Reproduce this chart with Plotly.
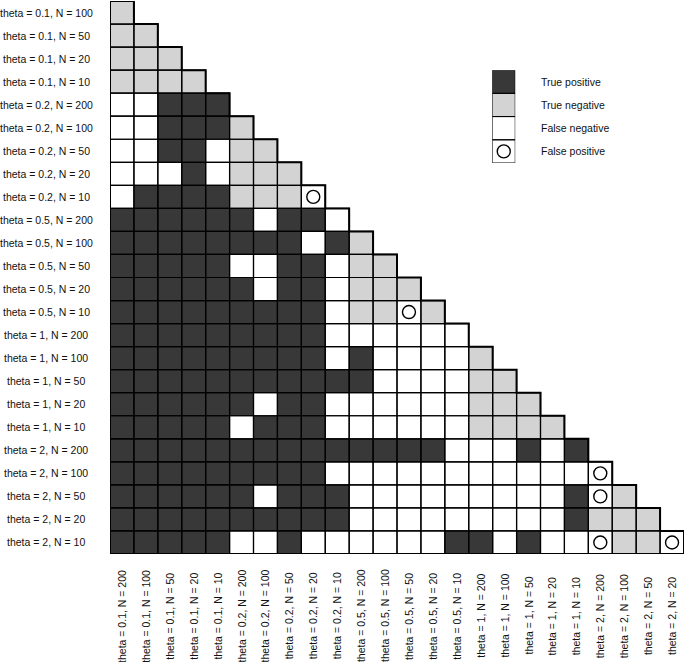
import plotly.graph_objects as go

# ---- data ----
thetas = ["0.1"] * 4 + ["0.2"] * 5 + ["0.5"] * 5 + ["1"] * 5 + ["2"] * 5
row_ns = ["100", "50", "20", "10"] + ["200", "100", "50", "20", "10"] * 4
row_labels = [f"theta = {t}, N = {n}" for t, n in zip(thetas, row_ns)]

col_thetas = ["0.1"] * 5 + ["0.2"] * 5 + ["0.5"] * 5 + ["1"] * 5 + ["2"] * 4
col_ns = ["200", "100", "50", "20", "10"] * 4 + ["200", "100", "50", "20"]
col_labels = [f"theta = {t}, N = {n}" for t, n in zip(col_thetas, col_ns)]

# T = true positive, N = true negative, F = false negative, P = false positive
outcomes = [
    "N",
    "NN",
    "NNN",
    "NNNN",
    "FFTTT",
    "FFTTTN",
    "FFTTFNN",
    "FFFTFNNN",
    "FTTTTNNNP",
    "TTTTTTFTTF",
    "TTTTTTTTFTN",
    "TTTTTFFTTFNN",
    "TTTTTTFTTFNNN",
    "TTTTTTTTTFNNPN",
    "TTTTTTTTTFFFFFF",
    "TTTTTTTTTFTFFFFN",
    "TTTTTTTTTTTFFFFNN",
    "TTTTTTFTTFFFFFFNNN",
    "TTTTTFTTTFFFFFFNNNN",
    "TTTTTTTTTTTTTTFFFTFT",
    "TTTTTTTTTFFFFFFFFFFFP",
    "TTTTTTFTTTFFFFFFFFFTPN",
    "TTTTTTTTTTFFFFFFFFFTNNN",
    "TTTTTFFTFFFFFFTTFTFFPNNP",
]

legend_codes = ["T", "N", "F", "P"]
legend_names = ["True positive", "True negative", "False negative", "False positive"]

# ---- styles ----
DARK = "#383838"
GRAY = "#d3d3d3"
WHITE = "#ffffff"
code_val = {"T": 0, "N": 1, "F": 2, "P": 2}
cscale = [[0.0, DARK], [0.25, DARK], [0.25, GRAY], [0.75, GRAY], [0.75, WHITE], [1.0, WHITE]]
FONT = dict(family="Liberation Sans, Arial, sans-serif", size=10.5, color="#111111")
CIRCLE = dict(symbol="circle-open", size=13, color="black", line=dict(width=1.4))

n_rows = len(row_labels)
n_cols = len(col_labels)

z = []
for i in range(n_rows):
    row = []
    for j in range(n_cols):
        row.append(code_val[outcomes[i][j]] if j < len(outcomes[i]) else None)
    z.append(row)

fig = go.Figure()
fig.add_trace(go.Heatmap(
    z=z, x=list(range(n_cols)), y=list(range(n_rows)),
    colorscale=cscale, zmin=0, zmax=2, showscale=False, hoverinfo="skip",
))

# false positive circles
px_, py_ = [], []
for i, r in enumerate(outcomes):
    for j, c in enumerate(r):
        if c == "P":
            px_.append(j)
            py_.append(i)
fig.add_trace(go.Scatter(
    x=px_, y=py_, mode="markers", showlegend=False, hoverinfo="skip", cliponaxis=False,
    marker=CIRCLE,
))

shapes = []
for i, r in enumerate(outcomes):
    for j in range(len(r)):
        shapes.append(dict(type="rect", xref="x", yref="y",
                           x0=j - 0.5, x1=j + 0.5, y0=i - 0.5, y1=i + 0.5,
                           line=dict(color="black", width=1.2)))
# outer staircase outline
path = "M -0.5 -0.5"
for i in range(n_rows):
    path += f" L {i + 0.5} {i - 0.5} L {i + 0.5} {i + 0.5}"
path += f" L -0.5 {n_rows - 0.5} Z"
shapes.append(dict(type="path", xref="x", yref="y", path=path,
                   line=dict(color="black", width=2)))

# legend on secondary axes
leg_z = [[code_val[c]] for c in legend_codes]
fig.add_trace(go.Heatmap(
    z=leg_z, x=[0], y=list(range(len(legend_codes))), xaxis="x2", yaxis="y2",
    colorscale=cscale, zmin=0, zmax=2, showscale=False, hoverinfo="skip",
))
lp = [k for k, c in enumerate(legend_codes) if c == "P"]
fig.add_trace(go.Scatter(
    x=[0] * len(lp), y=lp, xaxis="x2", yaxis="y2", mode="markers",
    showlegend=False, hoverinfo="skip", marker=CIRCLE,
))
for k in range(len(legend_codes)):
    shapes.append(dict(type="rect", xref="x2", yref="y2",
                       x0=-0.5, x1=0.5, y0=k - 0.5, y1=k + 0.5,
                       line=dict(color="black", width=1)))

annotations = []
for i, lab in enumerate(row_labels):
    annotations.append(dict(text=lab, xref="paper", yref="y", x=-0.1113, y=i,
                            xanchor="center", yanchor="middle", showarrow=False, font=FONT))
for j, lab in enumerate(col_labels):
    annotations.append(dict(text=lab, xref="x", yref="paper", x=j, y=-0.1121,
                            xanchor="center", yanchor="middle", textangle=-90,
                            showarrow=False, font=FONT))
for k, lab in enumerate(legend_names):
    annotations.append(dict(text=lab, xref="paper", yref="y2", x=0.748, y=k,
                            xanchor="left", yanchor="middle", showarrow=False, font=FONT))

fig.update_layout(
    width=685, height=662,
    margin=dict(l=110, r=1, t=1, b=108),
    paper_bgcolor="white", plot_bgcolor="white",
    showlegend=False,
    xaxis=dict(range=[-0.5, n_cols - 0.5], showticklabels=False, showgrid=False,
               zeroline=False, ticks="", fixedrange=True),
    yaxis=dict(range=[n_rows - 0.5, -0.5], showticklabels=False, showgrid=False,
               zeroline=False, ticks="", fixedrange=True),
    xaxis2=dict(domain=[0.666, 0.706], range=[-0.5, 0.5], anchor="y2", visible=False),
    yaxis2=dict(domain=[0.707, 0.875], range=[len(legend_codes) - 0.5, -0.5],
                anchor="x2", visible=False),
    shapes=shapes,
    annotations=annotations,
)

fig.write_html(
    "out.html",
    config={"displayModeBar": False, "staticPlot": True},
    post_script="document.body.style.margin='0';document.body.style.overflow='hidden';",
)
